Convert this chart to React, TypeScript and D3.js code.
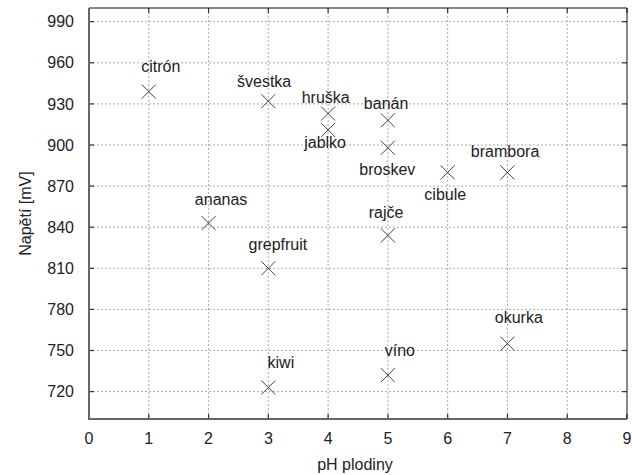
import React, { useEffect, useRef } from 'react'
import * as d3 from 'd3'

const fruits = ['citrón', 'švestka', 'hruška', 'jablko', 'banán', 'broskev', 'cibule', 'brambora', 'ananas', 'rajče', 'grepfruit', 'kiwi', 'víno', 'okurka']
const ph = [1, 3, 4, 4, 5, 5, 6, 7, 2, 5, 3, 3, 5, 7]
const voltage = [939, 932, 923, 911, 918, 898, 880, 880, 843, 834, 810, 723, 732, 755]
// where each label sits, in data units (like gnuplot "set label at x,y")
const labelPh = [1.2, 2.93, 3.96, 3.95, 4.97, 4.99, 5.96, 6.96, 2.21, 4.97, 3.16, 3.21, 5.2, 7.19]
const labelVoltage = [953, 942, 931, 898, 926, 878, 860, 891, 856, 847, 823, 737, 746, 770]
const xTicks = [0, 1, 2, 3, 4, 5, 6, 7, 8, 9]
const yTicks = [720, 750, 780, 810, 840, 870, 900, 930, 960, 990]

function App() {
  const svgRef = useRef<SVGSVGElement>(null)
  const W = 632, H = 475
  const margin = { top: 8, right: 5, bottom: 56, left: 89 }
  const width = W - margin.left - margin.right
  const height = H - margin.top - margin.bottom

  useEffect(() => {
    const root = d3.select(svgRef.current)
    root.selectAll('*').remove()
    const svg = root.append('g').attr('transform', `translate(${margin.left},${margin.top})`)

    const x = d3.scaleLinear().domain([0, 9]).range([0, width])
    const y = d3.scaleLinear().domain([700, 1000]).range([height, 0])
    const font = 'Liberation Sans, Arial, sans-serif'

    // grid
    svg.append('g').selectAll('line.gx').data(xTicks.slice(1, -1)).join('line')
      .attr('x1', d => x(d)).attr('x2', d => x(d)).attr('y1', 0).attr('y2', height)
      .attr('stroke', '#aaa').attr('stroke-dasharray', '2,2')
    svg.append('g').selectAll('line.gy').data(yTicks).join('line')
      .attr('x1', 0).attr('x2', width).attr('y1', d => y(d)).attr('y2', d => y(d))
      .attr('stroke', '#aaa').attr('stroke-dasharray', '2,2')

    // inward ticks on all four sides
    const tk = 5
    const t = svg.append('g').attr('stroke', '#333').attr('stroke-width', 1.2)
    t.selectAll('line.bx').data(xTicks).join('line')
      .attr('x1', d => x(d)).attr('x2', d => x(d)).attr('y1', height).attr('y2', height - tk)
    t.selectAll('line.tx').data(xTicks).join('line')
      .attr('x1', d => x(d)).attr('x2', d => x(d)).attr('y1', 0).attr('y2', tk)
    t.selectAll('line.ly').data(yTicks).join('line')
      .attr('x1', 0).attr('x2', tk).attr('y1', d => y(d)).attr('y2', d => y(d))
    t.selectAll('line.ry').data(yTicks).join('line')
      .attr('x1', width).attr('x2', width - tk).attr('y1', d => y(d)).attr('y2', d => y(d))

    // frame
    svg.append('path').attr('d', `M0,0H${width}V${height}`)
      .attr('fill', 'none').attr('stroke', '#111').attr('stroke-width', 1)
    svg.append('path').attr('d', `M0,0V${height}H${width}`)
      .attr('fill', 'none').attr('stroke', '#666').attr('stroke-width', 2)

    // tick labels
    svg.append('g').selectAll('text').data(xTicks).join('text')
      .attr('x', d => x(d)).attr('y', height + 25)
      .attr('text-anchor', 'middle').attr('font-family', font).attr('font-size', 16).attr('fill', '#222')
      .text(d => d)
    svg.append('g').selectAll('text').data(yTicks).join('text')
      .attr('x', -15).attr('y', d => y(d)).attr('dy', '0.35em')
      .attr('text-anchor', 'end').attr('font-family', font).attr('font-size', 16).attr('fill', '#222')
      .text(d => d)

    // markers
    const s = 7
    const pts = svg.append('g').attr('stroke', '#444').attr('stroke-width', 1)
    fruits.forEach((f, i) => {
      const cx = x(ph[i]), cy = y(voltage[i])
      pts.append('path').attr('d', `M${cx - s},${cy - s}L${cx + s},${cy + s}M${cx - s},${cy + s}L${cx + s},${cy - s}`)
    })

    // labels
    svg.append('g').selectAll('text').data(fruits).join('text')
      .attr('x', (d, i) => x(labelPh[i])).attr('y', (d, i) => y(labelVoltage[i]))
      .attr('text-anchor', 'middle').attr('font-family', font).attr('font-size', 16).attr('fill', '#222')
      .text(d => d)

    // axis titles
    svg.append('text')
      .attr('x', width / 2 - 3).attr('y', height + 51)
      .attr('text-anchor', 'middle').attr('font-family', font).attr('font-size', 16).attr('fill', '#222')
      .text('pH plodiny')
    svg.append('text')
      .attr('transform', `translate(${31 - margin.left},${height / 2}) rotate(-90)`)
      .attr('text-anchor', 'middle').attr('font-family', font).attr('font-size', 16).attr('fill', '#222')
      .text('Napětí [mV]')
  }, [])

  return (
    <svg ref={svgRef} width={W} height={H}
      style={{ position: 'absolute', left: 0, top: 0, background: '#fff' }}></svg>
  )
}
export default App
